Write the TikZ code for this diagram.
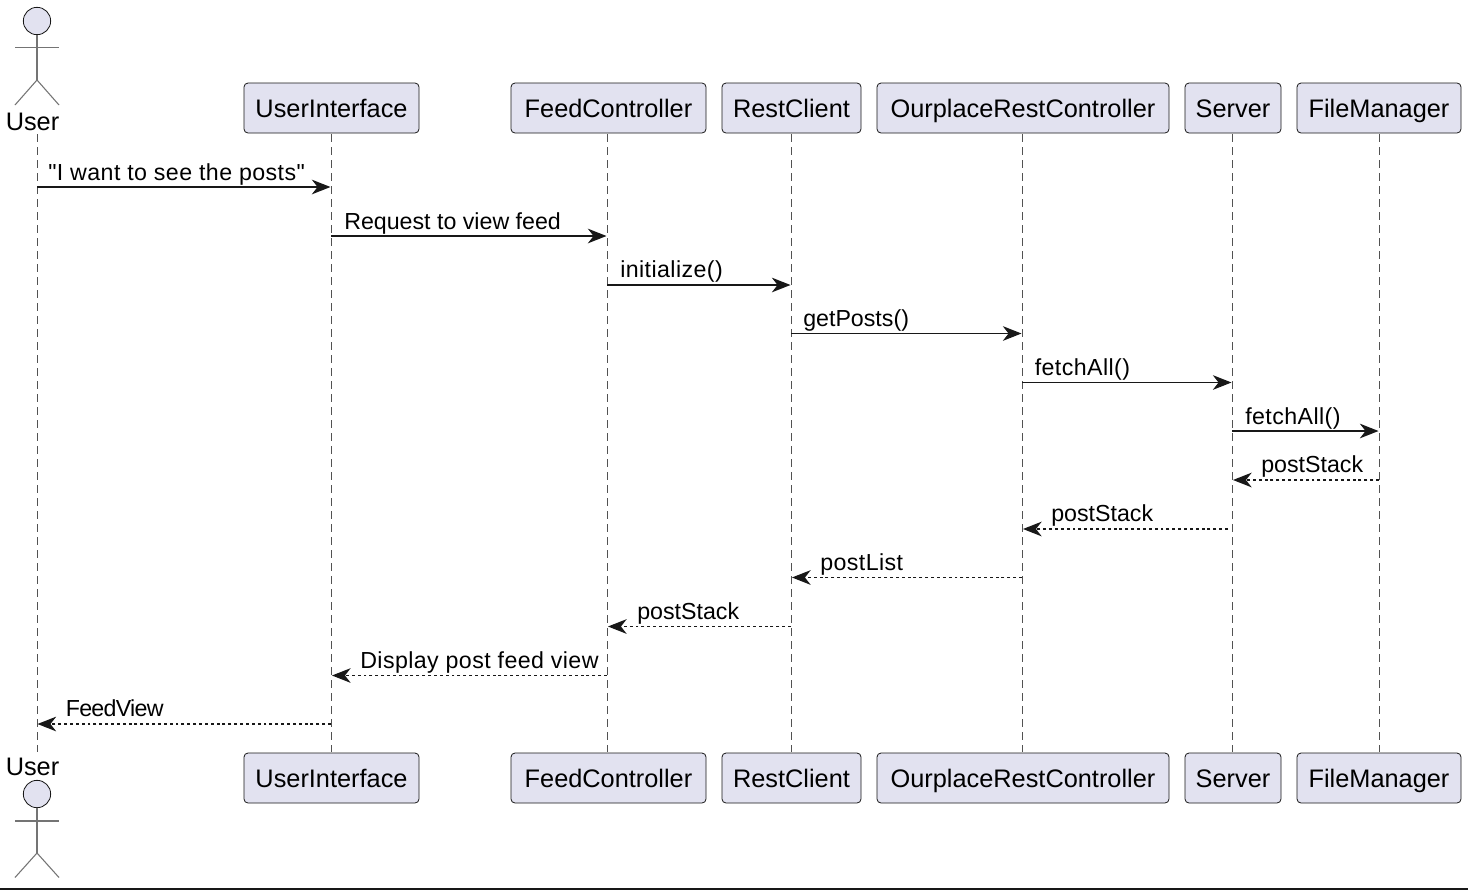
\documentclass[tikz,border=0pt]{standalone}
\usepackage{fontspec}
\newfontfamily\diagramfont{Liberation Sans}
\usetikzlibrary{arrows.meta}
\definecolor{partfill}{HTML}{E2E2F0}
\definecolor{partline}{HTML}{181818}

\begin{document}
\begin{tikzpicture}%
        [x=0.75pt,
        y=-0.75pt,
        part/.style={rectangle,rounded corners=3pt,draw=partline,fill=partfill,line width=0.6pt,
            minimum height=37.5pt,inner xsep=0pt,inner ysep=0pt,text height=17pt,text depth=3.5pt,
            text=black,font=\diagramfont\fontsize{19}{23}\selectfont},
        actorlabel/.style={inner sep=0pt,text=black,font=\diagramfont\fontsize{19}{23}\selectfont},
        head/.style={circle,draw=partline,fill=partfill,line width=0.6pt,minimum size=20.5pt,inner sep=0pt},
        limb/.style={draw=partline!60!white,line width=0.8pt},
        lifeline/.style={draw=partline!75!white,line width=0.7pt,dash pattern=on 6pt off 3.75pt},
        call/.style={draw=partline,line width=1pt,-{Stealth[length=14pt,width=11pt,inset=4.3pt]}},
        return/.style={draw=partline,line width=0.9pt,dash pattern=on 2.2pt off 2.2pt,
            -{Stealth[length=14pt,width=11pt,inset=4.3pt]}},
        msg/.style={anchor=base west,inner sep=0pt,text=black,font=\diagramfont\fontsize{17.4}{21}\selectfont},
        msgwide/.style={msg,font=\diagramfont\fontsize{17.4}{21}\selectfont\addfontfeature{LetterSpace=1.8}},
        msgtight/.style={msg,font=\diagramfont\fontsize{17.4}{21}\selectfont\addfontfeature{LetterSpace=-3}}]

    \useasboundingbox (0,0) rectangle (1468,890);
    \fill[white] (0,0) rectangle (1468,890);

    %% Drawing the lifelines
    \coordinate (userTop) at (37,134);
    \coordinate (userBottom) at (37,752);
    \draw[lifeline] (userTop) -- (userBottom);

    %% Drawing the participants
    \node[part,minimum width=131.25pt] (uiTop) at (331.5,108) {UserInterface};
    \node[part,minimum width=146.25pt] (fcTop) at (608.5,108) {FeedController};
    \node[part,minimum width=104.25pt] (rcTop) at (791.5,108) {RestClient};
    \node[part,minimum width=219pt] (orcTop) at (1023,108) {OurplaceRestController};
    \node[part,minimum width=72pt] (srvTop) at (1233,108) {Server};
    \node[part,minimum width=123pt] (fmTop) at (1379,108) {FileManager};

    \node[part,minimum width=131.25pt] (uiBottom) at (331.5,778) {UserInterface};
    \node[part,minimum width=146.25pt] (fcBottom) at (608.5,778) {FeedController};
    \node[part,minimum width=104.25pt] (rcBottom) at (791.5,778) {RestClient};
    \node[part,minimum width=219pt] (orcBottom) at (1023,778) {OurplaceRestController};
    \node[part,minimum width=72pt] (srvBottom) at (1233,778) {Server};
    \node[part,minimum width=123pt] (fmBottom) at (1379,778) {FileManager};

    \draw[lifeline] (331,134) coordinate (uiA) -- (331,752) coordinate (uiB);
    \draw[lifeline] (607,134) coordinate (fcA) -- (607,752) coordinate (fcB);
    \draw[lifeline] (791,134) coordinate (rcA) -- (791,752) coordinate (rcB);
    \draw[lifeline] (1022,134) coordinate (orcA) -- (1022,752) coordinate (orcB);
    \draw[lifeline] (1232,134) coordinate (srvA) -- (1232,752) coordinate (srvB);
    \draw[lifeline] (1379,134) coordinate (fmA) -- (1379,752) coordinate (fmB);

    %% Drawing the actor, top and bottom
    \node[head] (headTop) at (37,21) {};
    \coordinate (hipTop) at (37,80);
    \draw[limb] (headTop) -- (hipTop);
    \draw[limb] (15,47.5) -- (59,47.5);
    \draw[limb] (15,105) -- (hipTop) -- (59,105);
    \node[actorlabel,anchor=base] (userLabelTop) at (32.5,130.5) {User};

    \node[head] (headBottom) at (37,794) {};
    \coordinate (hipBottom) at (37,853);
    \draw[limb] (headBottom) -- (hipBottom);
    \draw[limb] (15,821) -- (59,821);
    \draw[limb] (15,877.5) -- (hipBottom) -- (59,877.5);
    \node[actorlabel,anchor=base] (userLabelBottom) at (32.5,775.5) {User};

    %% Drawing the messages
    \coordinate (m1a) at (37,187);     \coordinate (m1b) at (330.5,187);
    \coordinate (m2a) at (331,236);    \coordinate (m2b) at (606.5,236);
    \coordinate (m3a) at (607,285);    \coordinate (m3b) at (790.5,285);
    \coordinate (m4a) at (791,333.5);  \coordinate (m4b) at (1021.5,333.5);
    \coordinate (m5a) at (1022,382.5); \coordinate (m5b) at (1231.5,382.5);
    \coordinate (m6a) at (1232,431);   \coordinate (m6b) at (1378.5,431);
    \coordinate (m7a) at (1379,480);   \coordinate (m7b) at (1233,480);
    \coordinate (m8a) at (1228,529);   \coordinate (m8b) at (1023,529);
    \coordinate (m9a) at (1022,577.5); \coordinate (m9b) at (792,577.5);
    \coordinate (m10a) at (791,626.5); \coordinate (m10b) at (608,626.5);
    \coordinate (m11a) at (607,675.5); \coordinate (m11b) at (332,675.5);
    \coordinate (m12a) at (331,724);   \coordinate (m12b) at (37.5,724);

    \draw[call] (m1a) -- (m1b);
    \draw[call] (m2a) -- (m2b);
    \draw[call] (m3a) -- (m3b);
    \draw[call] (m4a) -- (m4b);
    \draw[call] (m5a) -- (m5b);
    \draw[call] (m6a) -- (m6b);
    \draw[return] (m7a) -- (m7b);
    \draw[return] (m8a) -- (m8b);
    \draw[return] (m9a) -- (m9b);
    \draw[return] (m10a) -- (m10b);
    \draw[return] (m11a) -- (m11b);
    \draw[return] (m12a) -- (m12b);

    %% Drawing the labels
    \node[msgwide] (l1) at (48,180) {"I want to see the posts"};
    \node[msg] (l2) at (344,229) {Request to view feed};
    \node[msgwide] (l3) at (620,277.5) {initialize()};
    \node[msg] (l4) at (803,326.5) {getPosts()};
    \node[msgwide] (l5) at (1034.5,375) {fetchAll()};
    \node[msgwide] (l6) at (1245,424) {fetchAll()};
    \node[msg] (l7) at (1261,472.5) {postStack};
    \node[msg] (l8) at (1051,521.5) {postStack};
    \node[msgwide] (l9) at (820,570.5) {postList};
    \node[msg] (l10) at (637,619) {postStack};
    \node[msgwide] (l11) at (360,668) {Display post feed view};
    \node[msgtight] (l12) at (65.5,716.5) {FeedView};

    %% Bottom rule
    \draw[partline,line width=1.1pt] (0,889) -- (1468,889);
\end{tikzpicture}
\end{document}
